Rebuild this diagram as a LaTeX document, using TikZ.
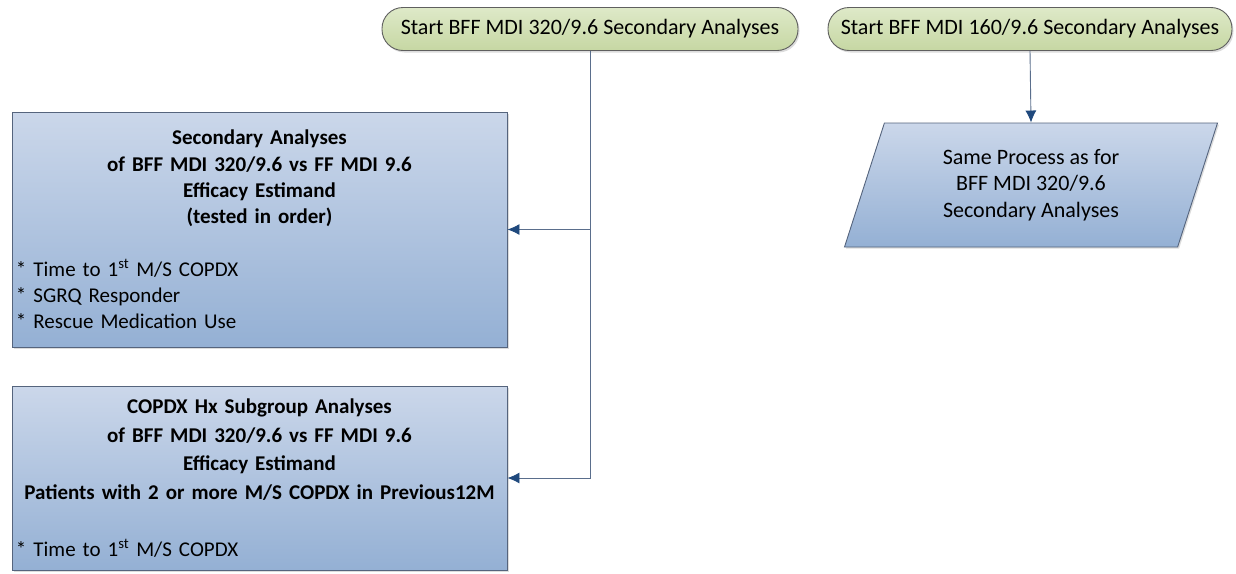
\documentclass[tikz,border=0pt]{standalone}
\usepackage{fontspec}
\setmainfont{Carlito}
\usepackage{xcolor}
\definecolor{startgreen}{RGB}{222,233,200}
\definecolor{startgreendk}{RGB}{198,215,163}
\definecolor{boxblue}{RGB}{203,215,234}
\definecolor{boxbluedk}{RGB}{148,176,212}
\definecolor{edgegray}{RGB}{95,95,95}
\definecolor{edgeblue}{RGB}{85,100,125}
\definecolor{linkblue}{RGB}{90,110,140}
\definecolor{tipblue}{RGB}{31,73,125}
\usetikzlibrary{positioning}
\usetikzlibrary{arrows.meta}
\usetikzlibrary{shapes.geometric}
\usetikzlibrary{shadows}
\tikzset{
  terminal/.style={rectangle, rounded corners=21pt, draw=edgegray, line width=0.9pt,
    top color=startgreen, bottom color=startgreendk, minimum height=43pt,
    drop shadow={shadow xshift=1.5pt, shadow yshift=-2pt, fill=gray!55},
    font=\fontsize{22}{27}\selectfont},
  procbox/.style={rectangle, draw=edgeblue, line width=0.9pt,
    top color=boxblue, bottom color=boxbluedk, minimum width=495pt,
    text width=487pt, inner xsep=4pt, align=left,
    drop shadow={shadow xshift=1.5pt, shadow yshift=-1.5pt, fill=gray!55}},
  iobox/.style={trapezium, trapezium left angle=63, trapezium right angle=117,
    trapezium stretches body, draw=edgeblue, line width=0.9pt,
    top color=boxblue, bottom color=boxbluedk, minimum width=373pt, minimum height=124pt,
    align=center, font=\fontsize{22}{26.5}\selectfont,
    drop shadow={shadow xshift=1.5pt, shadow yshift=-1.5pt, fill=gray!55}},
  link/.style={draw=linkblue, line width=0.9pt, -{Latex[length=12pt, width=11pt, color=tipblue]}}
}

\begin{document}
\begin{tikzpicture}[x=1pt, y=-1pt]
  \useasboundingbox (0,0) rectangle (1236,573);

  % start terminals
  \node [terminal, minimum width=416pt] at (590,29) (start1) {Start BFF MDI 320/9.6 Secondary Analyses};
  \node [terminal, minimum width=404pt] at (1030,29) (start2) {Start BFF MDI 160/9.6 Secondary Analyses};

  % analysis boxes
  \node [procbox, minimum height=235pt, font=\fontsize{21}{26.3}\selectfont] at (259.5,229.5) (sec) {%
    {\centering\bfseries Secondary Analyses\\of BFF MDI 320/9.6 vs FF MDI 9.6\\Efficacy Estimand\\(tested in order)\par}
    \vspace{26.3pt}
    {*} Time to 1\textsuperscript{st} M/S COPDX\\
    {*} SGRQ Responder\\
    {*} Rescue Medication Use};
  \node [procbox, minimum height=184pt, font=\fontsize{21}{28.5}\selectfont] at (259.5,478) (sub) {%
    {\centering\bfseries COPDX Hx Subgroup Analyses\\of BFF MDI 320/9.6 vs FF MDI 9.6\\Efficacy Estimand\\Patients with 2 or more M/S COPDX in Previous12M\par}
    \vspace{28.5pt}
    {*} Time to 1\textsuperscript{st} M/S COPDX};

  \node [iobox] at (1031,185) (same) {Same Process as for\\BFF MDI 320/9.6\\Secondary Analyses};

  % connectors
  \draw [link] (start1.south) |- (sec.east);
  \draw [link] (start1.south) |- (sub.east);
  \draw [link] (start2.south) -- (same.north);
\end{tikzpicture}
\end{document}
